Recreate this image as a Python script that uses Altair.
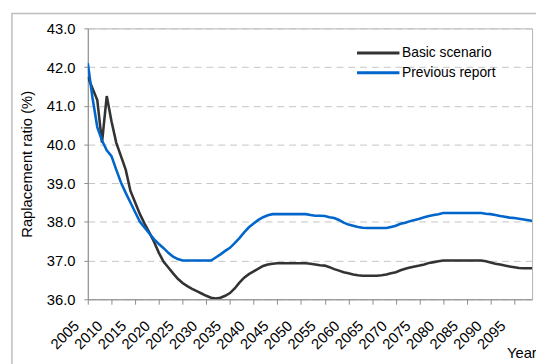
import altair as alt
import pandas as pd

years = list(range(2005, 2100))

basic = [
    41.75, 41.45, 41.15, 40.05, 41.25, 40.60, 40.05, 39.70, 39.35, 38.80,  # 2005-2014
    38.50, 38.20, 37.95, 37.72, 37.48, 37.20, 36.97, 36.82, 36.67, 36.53,  # 2015-2024
    36.42, 36.34, 36.27, 36.21, 36.15, 36.09, 36.04, 36.02, 36.04, 36.09,  # 2025-2034
    36.16, 36.28, 36.43, 36.56, 36.65, 36.72, 36.79, 36.86, 36.90, 36.92,  # 2035-2044
    36.93, 36.93, 36.93, 36.93, 36.93, 36.93, 36.93, 36.92, 36.90, 36.88,  # 2045-2054
    36.87, 36.83, 36.78, 36.74, 36.70, 36.67, 36.64, 36.62, 36.61, 36.61,  # 2055-2064
    36.61, 36.61, 36.62, 36.64, 36.67, 36.70, 36.75, 36.79, 36.82, 36.85,  # 2065-2074
    36.87, 36.90, 36.94, 36.96, 36.98, 37.00, 37.00, 37.00, 37.00, 37.00,  # 2075-2084
    37.00, 37.00, 37.00, 37.00, 36.98, 36.95, 36.92, 36.90, 36.87, 36.85,  # 2085-2094
    36.83, 36.81, 36.80, 36.80, 36.80,                                      # 2095-2099
]

previous = [
    42.10, 41.20, 40.45, 40.10, 39.85, 39.70, 39.35, 39.02, 38.75, 38.50,  # 2005-2014
    38.25, 38.00, 37.85, 37.70, 37.55, 37.43, 37.32, 37.20, 37.10, 37.04,  # 2015-2024
    37.00, 37.00, 37.00, 37.00, 37.00, 37.00, 37.00, 37.08, 37.16, 37.25,  # 2025-2034
    37.33, 37.45, 37.58, 37.73, 37.86, 37.96, 38.05, 38.12, 38.17, 38.20,  # 2035-2044
    38.20, 38.20, 38.20, 38.20, 38.20, 38.20, 38.20, 38.18, 38.16, 38.16,  # 2045-2054
    38.15, 38.12, 38.10, 38.05, 37.98, 37.93, 37.90, 37.87, 37.85, 37.84,  # 2055-2064
    37.84, 37.84, 37.84, 37.84, 37.87, 37.90, 37.95, 37.98, 38.02, 38.05,  # 2065-2074
    38.08, 38.12, 38.15, 38.18, 38.20, 38.23, 38.23, 38.23, 38.23, 38.23,  # 2075-2084
    38.23, 38.23, 38.23, 38.23, 38.21, 38.20, 38.18, 38.15, 38.13, 38.11,  # 2085-2094
    38.10, 38.08, 38.06, 38.04, 38.02,                                      # 2095-2099
]

series_names = ["Basic scenario", "Previous report"]
series_colors = ["#333333", "#0066cc"]
x_ticks = list(range(2005, 2100, 5))
y_ticks = [36, 37, 38, 39, 40, 41, 42, 43]

assert len(basic) == len(years) and len(previous) == len(years)

df = pd.concat([
    pd.DataFrame({"Year": years, "Ratio": basic, "Series": series_names[0]}),
    pd.DataFrame({"Year": years, "Ratio": previous, "Series": series_names[1]}),
])

FONT = "Liberation Sans"
W, H = 451, 275

lines = alt.Chart(df).mark_line(strokeWidth=2.6, clip=True).encode(
    x=alt.X("Year:Q",
            scale=alt.Scale(domain=[2005, 2098.75], nice=False, zero=False),
            axis=alt.Axis(values=x_ticks, format="d", labelAngle=315,
                          labelAlign="right", labelBaseline="middle",
                          labelOffset=-12, labelPadding=19, tickSize=5,
                          labelFontSize=15, labelColor="#000000",
                          domainColor="#8c8c8c", tickColor="#8c8c8c",
                          grid=False, labelOverlap=False, labelFlush=False,
                          title="Year", titleFontSize=15, titleFontWeight="normal",
                          titleColor="#000000", titleX=425, titleY=59,
                          titleAlign="left", titleBaseline="alphabetic",
                          titleAnchor="start")),
    y=alt.Y("Ratio:Q",
            scale=alt.Scale(domain=[36, 43], nice=False, zero=False),
            axis=alt.Axis(values=y_ticks, format=".1f", tickSize=4,
                          labelPadding=9, labelFontSize=15, labelColor="#000000",
                          domainColor="#8c8c8c", tickColor="#8c8c8c",
                          gridColor="#c4c4c4", gridDash=[7, 5], gridWidth=1,
                          title="Raplacement ratio (%)", titleFontSize=15,
                          titleFontWeight="normal", titleColor="#000000",
                          titleAngle=270, titleX=-62, titleY=H / 2,
                          titleAlign="center", titleBaseline="middle")),
    color=alt.Color("Series:N",
                    scale=alt.Scale(domain=series_names, range=series_colors),
                    legend=alt.Legend(title=None, orient="none",
                                      legendX=304, legendY=18,
                                      symbolType="M-7,0H1", symbolSize=116,
                                      symbolStrokeWidth=3, labelFontSize=14,
                                      labelColor="#000000", labelOffset=1,
                                      rowPadding=6, padding=0)),
)

frame_df = pd.DataFrame({"a": [0]})
frame = alt.Chart(frame_df).mark_rect(
    fill="#ffffff", fillOpacity=0, stroke="#bdbdbd", strokeWidth=1.5
).encode(
    x=alt.value(-77), x2=alt.value(W + 40),
    y=alt.value(-15), y2=alt.value(H + 90),
)

chart = alt.layer(frame, lines).properties(
    width=W, height=H,
    autosize=alt.AutoSizeParams(type="none"),
    padding={"left": 81, "top": 18, "right": 4, "bottom": 63},
).configure(font=FONT).configure_view(
    stroke="#b4b4b4", strokeWidth=1
).configure_axis(labelFont=FONT, titleFont=FONT).configure_legend(
    labelFont=FONT
)

chart.save("out.html", embed_options={"renderer": "svg", "actions": False})
